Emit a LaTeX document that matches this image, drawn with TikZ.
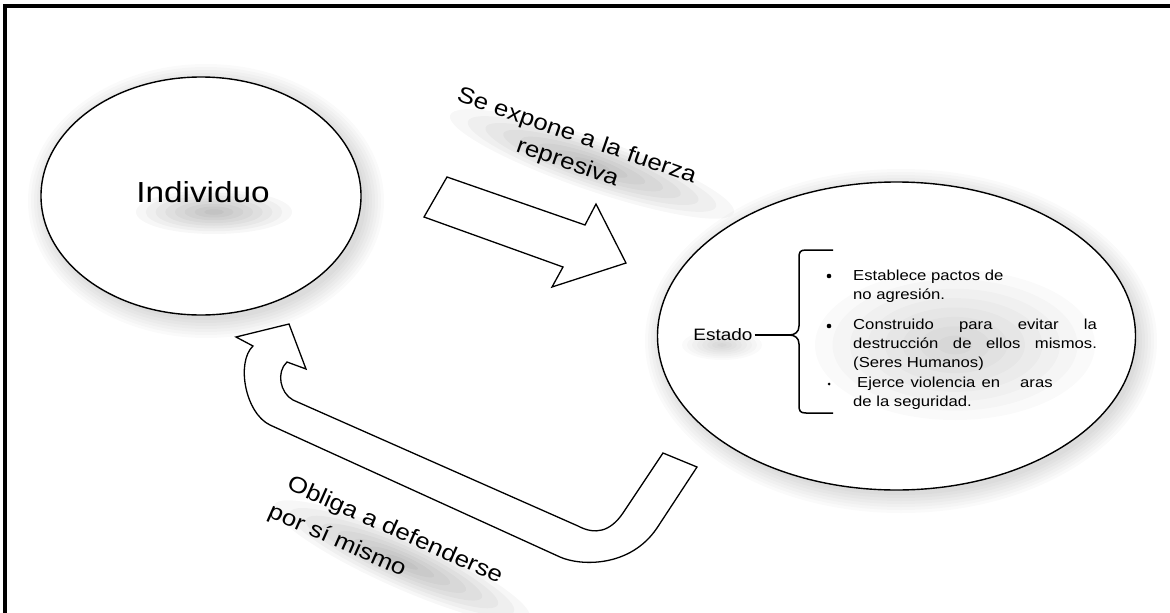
\documentclass[tikz,border=0pt]{standalone}
\usepackage{fontspec}
\setmainfont{Liberation Sans}
\usepackage{graphicx}
\usetikzlibrary{shapes.geometric}
\newcommand\sx[1]{\scalebox{1.15}[1]{#1}}
\begin{document}
\begin{tikzpicture}[x=1pt,y=-1pt,
  bubble/.style={ellipse, draw=black, fill=white, line width=1.4pt, inner sep=0pt},
  blockarrow/.style={draw=black, line width=1.3pt, line join=miter, fill=white},
  lbl/.style={inner sep=0pt, font=\fontsize{22.5}{28}\selectfont},
  itemtext/.style={anchor=west, inner sep=0pt, align=left, font=\fontsize{14.5}{19}\selectfont},
  bigdot/.style={circle, fill=black, inner sep=0pt, minimum size=4.6pt},
  smalldot/.style={circle, fill=black, inner sep=0pt, minimum size=3pt},
  haze/.style={fill=black, opacity=0.03}]
\useasboundingbox (0,0) rectangle (1170,613);
\fill[white] (0,0) rectangle (1170,613);
% frame
\draw[line width=4pt, line join=miter] (1170,6) -- (4.7,6) -- (4.7,613);
% soft shadows round the ellipses
\foreach \k in {0,...,6} {
  \fill[haze, opacity=0.02] (206,201) ellipse [x radius={160+3*\k}, y radius={119+3*\k}];
  \fill[haze, opacity=0.02] (901,341) ellipse [x radius={238+3*\k}, y radius={154+3*\k}];
}
% ellipses
\node[bubble, minimum width=320pt, minimum height=238pt] (indivshape) at (201,196) {};
\node[bubble, minimum width=478pt, minimum height=308pt] (estadoshape) at (896.5,336) {};
% glows under the texts
\foreach \k in {1,...,8} {
  \fill[haze] (214,212) ellipse [x radius={78*\k/8}, y radius={22*\k/8}];
  \fill[haze, rotate around={-19:(592,164)}] (592,164) ellipse [x radius={150*\k/8}, y radius={26*\k/8}];
  \fill[haze, rotate around={-24:(402,562)}] (402,562) ellipse [x radius={140*\k/8}, y radius={26*\k/8}];
  \fill[haze, opacity=0.018] (955,345) ellipse [x radius={140*\k/8}, y radius={75*\k/8}];
  \fill[haze, opacity=0.02] (722,345) ellipse [x radius={40*\k/8}, y radius={15*\k/8}];
}
% block arrows
\draw[blockarrow] (447,177) -- (585,225) -- (596,204) -- (626,263) -- (552,287) -- (563,267) -- (424,217) -- cycle;
\draw[blockarrow] (289,324) -- (236,337) -- (253,346)
  .. controls (236,362) and (245,413) .. (270,425) -- (560,557)
  .. controls (580,566) and (630,568) .. (657,528) -- (697,467) -- (663,453) -- (623,513)
  .. controls (610,532) and (595,535) .. (578,526) -- (293,400)
  .. controls (280,393) and (276,372) .. (287,362) -- (306,369) -- cycle;
% texts
\node[inner sep=0pt, font=\fontsize{29}{34}\selectfont] (indiv) at (203,192) {\sx{Individuo}};
\node[lbl, align=center, rotate=-19.2] (expone) at (572,150) {\sx{Se expone a la fuerza}\\\sx{represiva}};
\node[lbl, align=left, rotate=-24, font=\fontsize{22.5}{33}\selectfont] (obliga) at (388,546) {\sx{Obliga a defenderse}\\\hspace*{-6pt}\sx{por sí mismo}};
\node[inner sep=2pt, font=\fontsize{16.5}{20}\selectfont] (estado) at (723,335) {\sx{Estado}};
% brace
\coordinate (cusp) at (789,335);
\draw[line width=1.5pt] (estado.east) -- (cusp);
\draw[line width=1.5pt, line join=round] (833,250) -- (806,250) .. controls (800,250) and (799,252) .. (799,258) -- (799,326)
  .. controls (799,332) and (795,335) .. (cusp)
  .. controls (795,335) and (799,338) .. (799,344) -- (799,405)
  .. controls (799,411) and (800,413) .. (806,413) -- (833,413);
% bullet items
\node[bigdot] (d1) at (829,276) {};
\node[itemtext] (b1) at (853,286.5) {\sx{Establece pactos de}\\\sx{no agresión.}};
\node[bigdot] (d2) at (829,326) {};
\node[itemtext] (b2) at (853,344.5) {\sx{\makebox[212pt][s]{Construido para evitar la}}\\\sx{\makebox[212pt][s]{destrucción de ellos mismos.}}\\\sx{(Seres Humanos)}};
\node[smalldot] (d3) at (829,384) {};
\node[itemtext] (b3) at (853,393.5) {\hspace*{4pt}\sx{\makebox[170pt][s]{Ejerce violencia en\hspace{12pt} aras}}\\\sx{de la seguridad.}};
\end{tikzpicture}
\end{document}
